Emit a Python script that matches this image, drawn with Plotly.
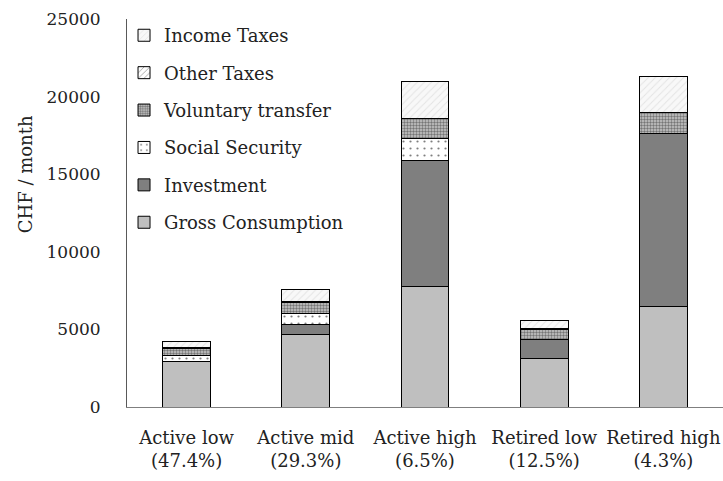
import plotly.graph_objects as go

categories = ["Active low<br>(47.4%)", "Active mid<br>(29.3%)", "Active high<br>(6.5%)",
              "Retired low<br>(12.5%)", "Retired high<br>(4.3%)"]
gross_consumption = [2900, 4640, 7780, 3140, 6490]
investment = [0, 690, 8130, 1180, 11160]
social_security = [390, 710, 1360, 0, 0]
voluntary_transfer = [510, 710, 1290, 690, 1310]
other_taxes = [50, 40, 60, 50, 40]
income_taxes = [340, 750, 2380, 530, 2280]

FONT = "DejaVu Serif"

series = [
    ("Gross Consumption", gross_consumption, dict(color="#bfbfbf")),
    ("Investment", investment, dict(color="#7f7f7f")),
    ("Social Security", social_security,
     dict(color="white", pattern=dict(shape=".", fgcolor="#000000", bgcolor="white", size=7, solidity=0.08))),
    ("Voluntary transfer", voluntary_transfer,
     dict(color="white", pattern=dict(shape=".", fgcolor="#222222", bgcolor="#c8c8c8", size=3, solidity=0.5))),
    ("Other Taxes", other_taxes,
     dict(color="white", pattern=dict(shape="/", fgcolor="#333333", bgcolor="white", size=5, solidity=0.2))),
    ("Income Taxes", income_taxes,
     dict(color="white", pattern=dict(shape="/", fgcolor="#d0d0d0", bgcolor="#f8f8f8", size=5, solidity=0.2))),
]

fig = go.Figure()
n = len(series)
for i, (name, vals, marker) in enumerate(series):
    m = dict(marker)
    m["line"] = dict(color="#000000", width=1)
    fig.add_trace(go.Bar(x=categories, y=vals, name=name, marker=m,
                         legendgroup=name, legendrank=n - i))

fig.update_layout(
    barmode="stack",
    bargap=0.6,
    width=723, height=481,
    margin=dict(l=127, r=0, t=19, b=74),
    plot_bgcolor="white", paper_bgcolor="white",
    font=dict(family=FONT, size=18, color="#222222"),
    showlegend=True,
    legend=dict(
        x=-0.005, y=1.005, xanchor="left", yanchor="top",
        traceorder="grouped", tracegroupgap=11,
        font=dict(family=FONT, size=18, color="#222222"),
        bgcolor="rgba(0,0,0,0)", itemwidth=30,
    ),
    xaxis=dict(
        showline=True, linecolor="#7f7f7f", linewidth=1,
        ticks="outside", ticklen=14, tickcolor="rgba(0,0,0,0)",
        tickfont=dict(family=FONT, size=18, color="#222222"),
        showgrid=False,
    ),
    yaxis=dict(
        range=[0, 25000], dtick=5000, tickformat="d",
        showgrid=False, zeroline=False,
        showline=True, linecolor="#595959", linewidth=1,
        ticks="outside", ticklen=22, tickcolor="rgba(0,0,0,0)",
        tickfont=dict(family=FONT, size=17, color="#222222"),
    ),
    annotations=[dict(
        text="CHF / month", xref="paper", yref="paper", x=-0.171, y=0.6,
        showarrow=False, textangle=-90, xanchor="center", yanchor="middle",
        font=dict(family=FONT, size=18, color="#222222"),
    )],
)

fig.write_html("out.html")
